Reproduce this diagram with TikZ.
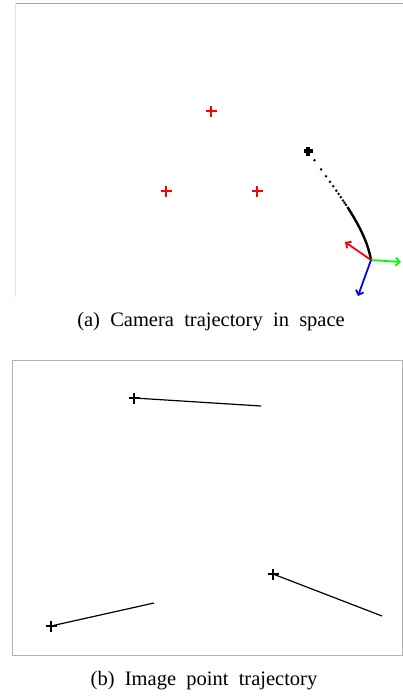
\documentclass[tikz,border=0pt]{standalone}
\usepackage{fontspec}
\setmainfont{Liberation Serif}
\usetikzlibrary{arrows.meta}

\begin{document}
\begin{tikzpicture}[x=1pt, y=-1pt,
    plusred/.style={red, line width=2.4pt},
    plusblack/.style={black, line width=1.6pt},
    imgline/.style={black, line width=1.2pt},
    axisarrow/.style={line width=1.8pt, -{Straight Barb[length=4pt, width=8pt]}},
    trajdot/.style={circle, fill=black, inner sep=0pt, minimum size=2.8pt},
    captext/.style={font=\fontsize{20.5}{23}\selectfont}]
    \useasboundingbox (0,0) rectangle (403,696);

    % (a) camera trajectory in space
    \draw[gray!70, line width=0.8pt] (15,3) -- (403,3);
    \draw[gray!20, line width=0.8pt] (15,3) -- (15,297);
    \coordinate (pa) at (211,111);
    \coordinate (pb) at (166,191);
    \coordinate (pc) at (257,191);
    \foreach \c in {pa,pb,pc}
        \draw[plusred] (\c) +(-5.5,0) -- +(5.5,0) (\c) +(0,-5.5) -- +(0,5.5);
    \coordinate (start) at (308,151);
    \coordinate (mid) at (347.4,207);
    \coordinate (cam) at (371,260);
    \draw[black, line width=3.8pt] (start) +(-4.5,0) -- +(4.5,0) (start) +(0,-4.5) -- +(0,4.5);
    \path (start) .. controls (335,190) and (365,225) .. (cam)
        foreach \t in {0.08,0.16,0.22,0.27,0.31,0.35,0.38,0.41,0.44,0.46,0.48} {node[trajdot, pos=\t] {}};
    \draw[black, line width=2.4pt] (mid) .. controls (359,225) and (368,242.5) .. (cam);
    \coordinate (xr) at (345,242);
    \coordinate (xg) at (401,262);
    \coordinate (xb) at (358,296);
    \draw[axisarrow, red] (cam) -- (xr);
    \draw[axisarrow, green] (cam) -- (xg);
    \draw[axisarrow, blue] (cam) -- (xb);
    \node[captext] (capa) at (211,322) {(a)\ \ Camera\ \ trajectory\ \ in\ \ space};

    % (b) image point trajectory
    \draw[gray!60, line width=0.6pt] (12,360) rectangle (402.5,655);
    \coordinate (qa) at (134,398);
    \coordinate (qaend) at (261,406);
    \coordinate (qb) at (273,574);
    \coordinate (qbend) at (382,616);
    \coordinate (qc) at (51,626);
    \coordinate (qcend) at (154,603);
    \foreach \c in {qa,qb,qc}
        \draw[plusblack] (\c) +(-5.5,0) -- +(5.5,0) (\c) +(0,-5.5) -- +(0,5.5);
    \draw[imgline] (qa) -- (qaend);
    \draw[imgline] (qb) -- (qbend);
    \draw[imgline] (qc) -- (qcend);
    \node[captext] (capb) at (204,681) {(b)\ \ Image\ \ point\ \ trajectory};
\end{tikzpicture}
\end{document}
